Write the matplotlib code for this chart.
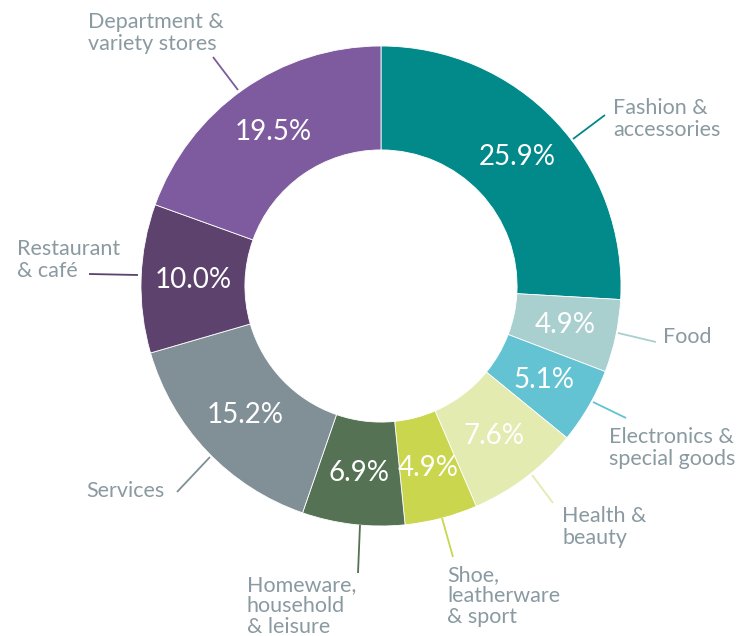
import matplotlib
matplotlib.use("Agg")
import matplotlib.pyplot as plt

categories = ["Fashion &\naccessories", "Food", "Electronics &\nspecial goods",
              "Health &\nbeauty", "Shoe,\nleatherware\n& sport",
              "Homeware,\nhousehold\n& leisure", "Services",
              "Restaurant\n& café", "Department &\nvariety stores"]
values = [25.9, 4.9, 5.1, 7.6, 4.9, 6.9, 15.2, 10.0, 19.5]
colors = ["#02898A", "#A9CFCF", "#63C3D3", "#E3EBB0", "#C9D64E",
          "#557254", "#818F96", "#5C426C", "#7E5B9F"]

W, H = 749, 636
fam = ["Lato", "DejaVu Sans"]
label_color = "#8A9AA1"

fig = plt.figure(figsize=(W / 100, H / 100), dpi=100)
ax = fig.add_axes([0, 0, 1, 1])

def Y(y):
    return H - y

cx, cy, R = 381, Y(286), 240
wedges, texts, autotexts = ax.pie(
    values, colors=colors, startangle=90, counterclock=False,
    center=(cx, cy), radius=R,
    wedgeprops=dict(width=R * 0.433, edgecolor="white", linewidth=0.6),
    autopct=lambda p: f"{p:.1f}%", pctdistance=0.783,
    textprops=dict(color="white", fontsize=20, family=fam, fontweight="normal"))

ax.set_xlim(0, W)
ax.set_ylim(0, H)
ax.set_aspect("equal")
ax.axis("off")

# layout: leader line start, end, text anchor, horizontal alignment
layout = [
    ((573, 139), (605, 115), (613, 119), "left"),
    ((618, 333), (656, 342), (663, 337), "left"),
    ((593, 402), (626, 418), (609, 448), "left"),
    ((532, 475), (553, 503), (562, 527), "left"),
    ((442, 518), (453, 557), (447, 596), "left"),
    ((360, 525), (358, 573), (247, 606), "left"),
    ((210, 457), (177, 492), (165, 491), "right"),
    ((138, 275), (89, 274), (17, 260), "left"),
    ((238, 90), (213, 57), (88, 33), "left"),
]

for cat, col, (s, e, t, ha) in zip(categories, colors, layout):
    ax.plot([s[0], e[0]], [Y(s[1]), Y(e[1])], color=col, lw=1.3,
            solid_capstyle="butt")
    ax.text(t[0], Y(t[1]), cat, ha=ha, va="center", fontsize=15.5,
            color=label_color, family=fam, fontweight="normal",
            linespacing=1.08)

fig.savefig("out.png", dpi=100)
